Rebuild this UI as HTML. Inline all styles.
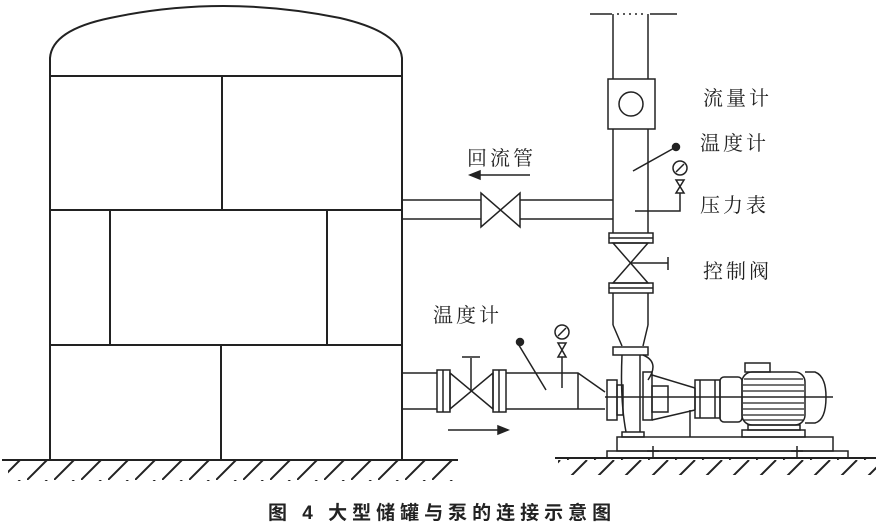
<!DOCTYPE html>
<html><head><meta charset="utf-8"><style>
html,body{margin:0;padding:0;background:#fff;}
svg{display:block;}
text{font-family:"Liberation Serif","Noto Serif CJK SC","Noto Sans CJK SC",serif;fill:#222;}
</style></head><body>
<svg width="882" height="526" viewBox="0 0 882 526" xmlns="http://www.w3.org/2000/svg">
<defs>
<pattern id="h" width="27" height="20" patternUnits="userSpaceOnUse"><line x1="0" y1="20" x2="20" y2="0" stroke="#222" stroke-width="2"/></pattern>
</defs>
<g fill="none" stroke="#222" stroke-width="2">
<path d="M50,460 V58 Q52,30 110,18 Q222,-6 340,18 Q400,32 402,58 V460"/>
<line x1="50" y1="76" x2="402" y2="76"/>
<line x1="50" y1="210" x2="402" y2="210"/>
<line x1="50" y1="345" x2="402" y2="345"/>
<line x1="222" y1="76" x2="222" y2="210"/>
<line x1="110" y1="210" x2="110" y2="345"/>
<line x1="327" y1="210" x2="327" y2="345"/>
<line x1="221" y1="345" x2="221" y2="460"/>
<line x1="2" y1="460" x2="458" y2="460"/>
<line x1="555" y1="458" x2="876" y2="458"/>
</g>
<rect x="8" y="461" width="450" height="20" fill="url(#h)"/>
<rect x="558" y="459" width="318" height="16" fill="url(#h)"/>
<g fill="none" stroke="#222" stroke-width="1.5">
<line x1="402" y1="200" x2="481" y2="200"/><line x1="402" y1="219" x2="481" y2="219"/>
<path d="M481,193 V227 L520,193 V227 Z" fill="#fff"/>
<line x1="520" y1="200" x2="613" y2="200"/><line x1="520" y1="219" x2="613" y2="219"/>
<line x1="470" y1="175" x2="530" y2="175"/>
<path d="M470,175 L480,171 L480,179 Z" fill="#222"/>
<line x1="590" y1="14" x2="612" y2="14"/><line x1="650" y1="14" x2="677" y2="14"/>
<line x1="617" y1="14" x2="645" y2="14" stroke-dasharray="2,4"/>
<line x1="613" y1="14" x2="613" y2="79"/><line x1="648" y1="14" x2="648" y2="79"/>
<rect x="608" y="79" width="47" height="50"/>
<circle cx="631" cy="104" r="12"/>
<line x1="613" y1="129" x2="613" y2="233"/><line x1="648" y1="129" x2="648" y2="233"/>
<line x1="633" y1="171" x2="676" y2="147"/>
<circle cx="676" cy="147" r="3.5" fill="#222"/>
<circle cx="680" cy="168" r="7"/><line x1="676" y1="172" x2="684" y2="164"/>
<path d="M676,180 L684,180 L676,193 L684,193 Z"/>
<path d="M680,193 V211 H635"/>
<rect x="609" y="233" width="44" height="10"/><line x1="609" y1="238" x2="653" y2="238"/>
<path d="M613,243 L648,243 L613,283 L648,283 Z"/>
<path d="M630,263 H668 M668,257 V270"/>
<rect x="609" y="283" width="44" height="10"/><line x1="609" y1="288" x2="653" y2="288"/>
<line x1="613" y1="293" x2="613" y2="325"/><line x1="648" y1="293" x2="648" y2="325"/>
<path d="M613,325 L622,346 M648,325 L643,346"/>
<rect x="613" y="347" width="35" height="8"/>
<path d="M622,355 Q620,400 626,432 M640,355 V432 M643,355 Q660,362 648,380"/>
<rect x="622" y="432" width="22" height="5"/>
<rect x="607" y="380" width="10" height="40"/>
<rect x="617" y="385" width="6" height="30"/>
<rect x="643" y="372" width="9" height="48"/>
<path d="M652,375 L695,388 M652,420 L695,410 M695,388 V410"/>
<rect x="652" y="386" width="16" height="26"/>
<line x1="690" y1="410" x2="690" y2="437"/>
<rect x="695" y="380" width="25" height="38"/>
<line x1="700" y1="380" x2="700" y2="418"/><line x1="715" y1="380" x2="715" y2="418"/>
<rect x="720" y="377" width="22" height="45" rx="4"/>
<rect x="742" y="372" width="63" height="53" rx="10"/>
<g stroke-width="1.2">
<line x1="744" y1="379" x2="803" y2="379"/><line x1="743" y1="385" x2="804" y2="385"/>
<line x1="743" y1="391" x2="804" y2="391"/><line x1="743" y1="403" x2="804" y2="403"/>
<line x1="743" y1="409" x2="804" y2="409"/><line x1="743" y1="415" x2="804" y2="415"/>
<line x1="744" y1="420" x2="803" y2="420"/>
</g>
<rect x="745" y="363" width="25" height="9"/>
<path d="M805,372 H815 Q826,376 826,397 Q826,420 815,423 H805"/>
<rect x="748" y="425" width="52" height="5"/>
<rect x="742" y="430" width="63" height="7"/>
<rect x="617" y="437" width="216" height="14"/>
<rect x="607" y="451" width="241" height="7"/>
<path d="M653,446 V458 M647,451 H659 M797,446 V458 M791,451 H803"/>
<line x1="605" y1="397" x2="833" y2="397"/>
<line x1="402" y1="373" x2="437" y2="373"/><line x1="402" y1="409" x2="437" y2="409"/>
<rect x="437" y="370" width="13" height="42"/><line x1="443" y1="370" x2="443" y2="412"/>
<path d="M450,373 L493,409 L493,373 L450,409 Z"/>
<path d="M471,391 V358 M462,357 H480"/>
<rect x="493" y="370" width="13" height="42"/><line x1="499" y1="370" x2="499" y2="412"/>
<path d="M506,373 H578 L605,392 M506,409 H605 M578,373 V409"/>
<line x1="517" y1="342" x2="546" y2="390"/>
<circle cx="520" cy="342" r="3.5" fill="#222"/>
<circle cx="562" cy="332" r="7"/><line x1="558" y1="336" x2="566" y2="328"/>
<path d="M558,343 L566,343 L558,357 L566,357 Z"/>
<line x1="562" y1="357" x2="562" y2="388"/>
<line x1="448" y1="430" x2="508" y2="430"/>
<path d="M508,430 L498,426 L498,434 Z" fill="#222"/>
</g>
<g font-size="20" letter-spacing="3">
<text x="703" y="105">流量计</text>
<text x="700" y="150">温度计</text>
<text x="700" y="212">压力表</text>
<text x="703" y="278">控制阀</text>
<text x="467" y="165">回流管</text>
<text x="433" y="322">温度计</text>
</g>
<text x="268" y="519" font-size="19" font-weight="bold" style="font-family:'Liberation Sans','Noto Sans CJK SC',sans-serif" letter-spacing="5">图 4  大型储罐与泵的连接示意图</text>
</svg>
</body></html>
